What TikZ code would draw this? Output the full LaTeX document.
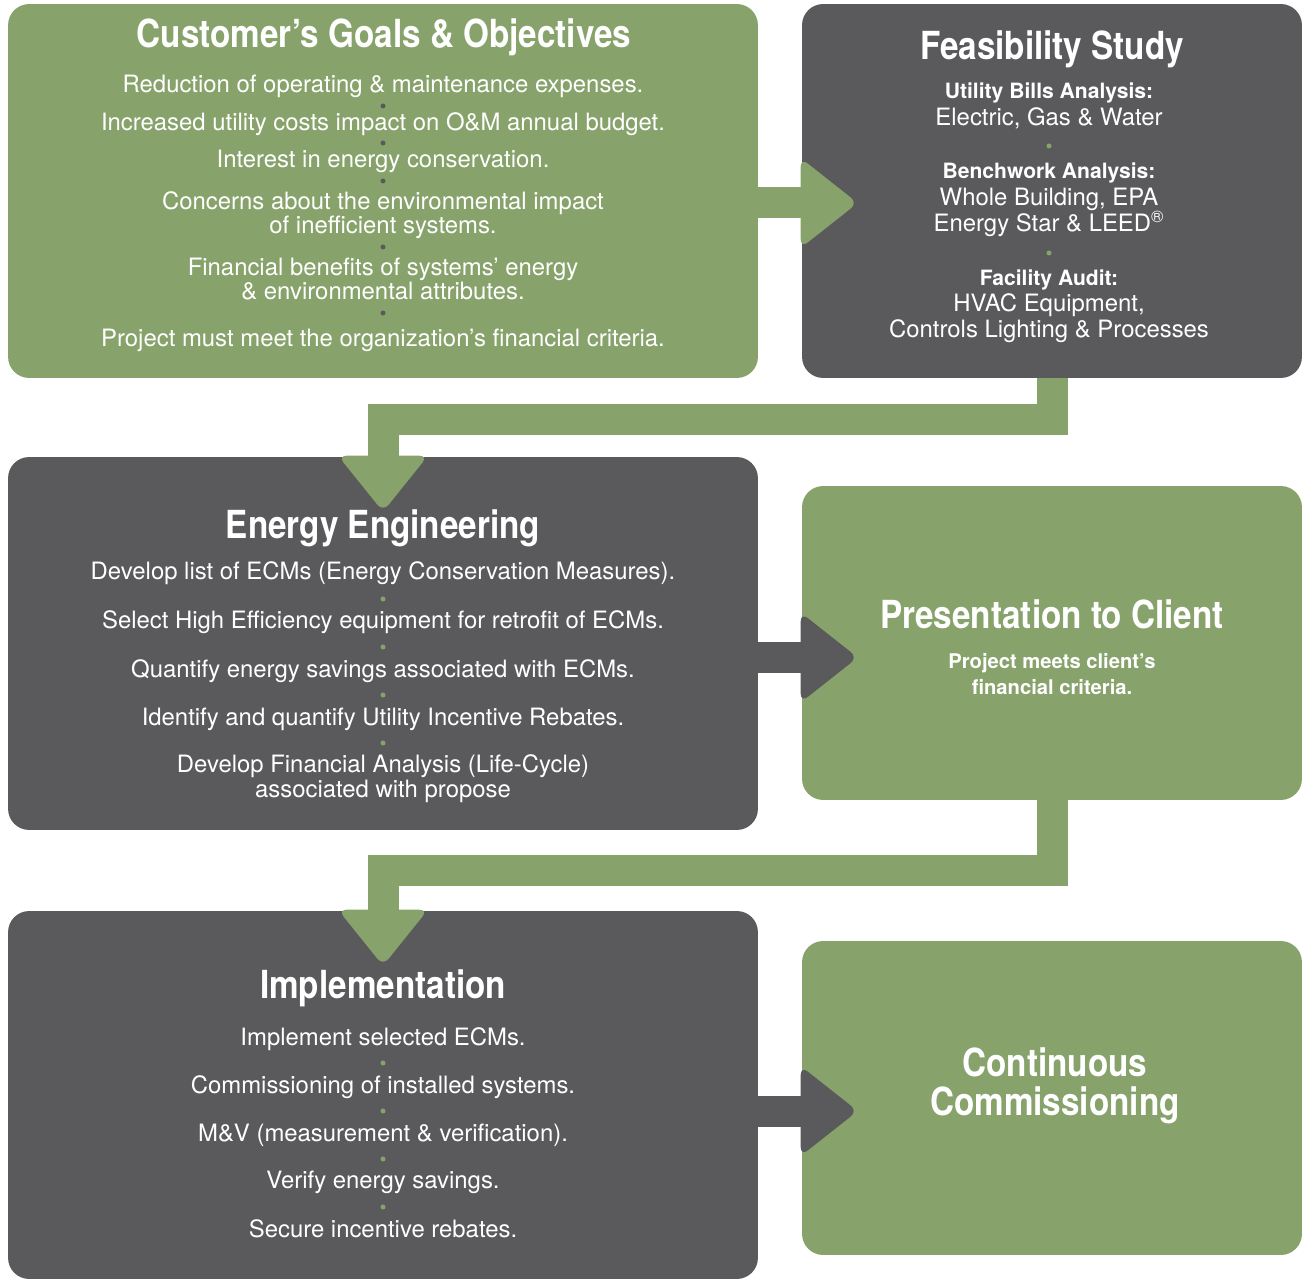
\documentclass[tikz,border=0pt]{standalone}
\usepackage{fontspec}
\setmainfont{TeX Gyre Heros}
\newfontfamily\headfont[FakeStretch=0.86]{TeX Gyre Heros}
\usepackage{tikz}
\usetikzlibrary{positioning, calc}
\definecolor{leaf}{HTML}{87A36B}
\definecolor{slate}{HTML}{5A5A5C}

\begin{document}
\begin{tikzpicture}[
  x=0.02cm, y=-0.02cm,
  gbox/.style={fill=leaf, rounded corners=12pt, inner sep=0pt},
  dbox/.style={fill=slate, rounded corners=12pt, inner sep=0pt},
  title/.style={font=\headfont\bfseries\fontsize{22}{22}\selectfont,
                text=white, align=center, anchor=base},
  item/.style={font=\fontsize{13.6}{12.8}\selectfont,
               text=white, align=center, anchor=base},
  entry/.style={item, font=\fontsize{13.6}{15}\selectfont},
  sub/.style={font=\bfseries\fontsize{12}{15}\selectfont,
              text=white, align=center, anchor=base},
  gpipe/.style={draw=leaf, line width=0.62cm},
  dpipe/.style={draw=slate, line width=0.62cm},
  ghead/.style={fill=leaf, rounded corners=5pt},
  dhead/.style={fill=slate, rounded corners=5pt}
]
  \useasboundingbox (0,0) rectangle (1309,1280);

  % Boxes
  \node[gbox, minimum width=15cm, minimum height=7.48cm] (goals) at (383,191) {};
  \node[dbox, minimum width=10cm, minimum height=7.48cm] (feas) at (1052,191) {};
  \node[dbox, minimum width=15cm, minimum height=7.46cm] (eng) at (383,643.5) {};
  \node[gbox, minimum width=10cm, minimum height=6.28cm] (pres) at (1052,643) {};
  \node[dbox, minimum width=15cm, minimum height=7.36cm] (impl) at (383,1095) {};
  \node[gbox, minimum width=10cm, minimum height=6.28cm] (comm) at (1052,1098) {};

  % Side arrows
  \coordinate (a1) at ($(goals.east)+(0,12)$);
  \coordinate (t1) at (a1 -| feas.west);
  \draw[gpipe] (a1) -- (t1);
  \fill[ghead] ($(t1)+(-1,-45)$) -- ($(t1)+(56,0)$) -- ($(t1)+(-1,45)$) -- cycle;

  \coordinate (a2) at ($(eng.east)+(0,14)$);
  \coordinate (t2) at (a2 -| pres.west);
  \draw[dpipe] (a2) -- (t2);
  \fill[dhead] ($(t2)+(-1,-45)$) -- ($(t2)+(56,0)$) -- ($(t2)+(-1,45)$) -- cycle;

  \coordinate (a3) at ($(impl.east)+(0,16)$);
  \coordinate (t3) at (a3 -| comm.west);
  \draw[dpipe] (a3) -- (t3);
  \fill[dhead] ($(t3)+(-1,-45)$) -- ($(t3)+(56,0)$) -- ($(t3)+(-1,45)$) -- cycle;

  % Elbow arrows
  \draw[gpipe] (feas.south) -- ++(0,41) -| (eng.north);
  \fill[ghead] ($(eng.north)+(-45,-1)$) -- ($(eng.north)+(0,55)$) -- ($(eng.north)+(45,-1)$) -- cycle;
  \draw[gpipe] (pres.south) -- ++(0,70) -| (impl.north);
  \fill[ghead] ($(impl.north)+(-45,-1)$) -- ($(impl.north)+(0,55)$) -- ($(impl.north)+(45,-1)$) -- cycle;

  % Customer's goals (two-line texts sit on their last line)
  \node[title] (goalsT) at (384,48) {Customer’s Goals \& Objectives};
  \node[item] (g1) at (383,93) {Reduction of operating \& maintenance expenses.};
  \node[item] (g2) at (383,131) {Increased utility costs impact on O\&M annual budget.};
  \node[item] (g3) at (383,168) {Interest in energy conservation.};
  \node[item] (g4) at (383,234) {Concerns about the environmental impact\\of inefficient systems.};
  \node[item] (g5) at (383,300) {Financial benefits of systems’ energy\\\& environmental attributes.};
  \node[item] (g6) at (383,347) {Project must meet the organization’s financial criteria.};
  \foreach \y in {106,143,181,247,313}
    \fill[slate] (383,\y) circle (0.05cm);

  % Feasibility study
  \node[title] (feasT) at (1052,60) {Feasibility Study};
  \node[sub] (f1) at (1049,99) {Utility Bills Analysis:};
  \node[entry] (f2) at (1049,126) {Electric, Gas \& Water};
  \node[sub] (f3) at (1049,179) {Benchwork Analysis:};
  \node[entry] (f4) at (1049,232) {Whole Building, EPA\\Energy Star \& LEED\textsuperscript{®}};
  \node[sub] (f5) at (1049,286) {Facility Audit:};
  \node[entry] (f6) at (1049,338) {HVAC Equipment,\\Controls Lighting \& Processes};
  \foreach \y in {146,253}
    \fill[leaf] (1049,\y) circle (0.05cm);

  % Energy engineering
  \node[title] (engT) at (383,539) {Energy Engineering};
  \node[item] (e1) at (383,580) {Develop list of ECMs (Energy Conservation Measures).};
  \node[item] (e2) at (383,628) {Select High Efficiency equipment for retrofit of ECMs.};
  \node[item] (e3) at (383,677) {Quantify energy savings associated with ECMs.};
  \node[item] (e4) at (383,725) {Identify and quantify Utility Incentive Rebates.};
  \node[item] (e5) at (383,797) {Develop Financial Analysis (Life-Cycle)\\associated with propose};
  \foreach \y in {599,647,695,743}
    \fill[leaf] (383,\y) circle (0.05cm);

  % Presentation
  \node[title] (presT) at (1052,628) {Presentation to Client};
  \node[sub, font=\bfseries\fontsize{11.5}{14.5}\selectfont] (p1) at (1052,694)
    {Project meets client’s\\financial criteria.};

  % Implementation
  \node[title] (implT) at (383,998) {Implementation};
  \node[item] (i1) at (383,1045) {Implement selected ECMs.};
  \node[item] (i2) at (383,1093) {Commissioning of installed systems.};
  \node[item] (i3) at (383,1141) {M\&V (measurement \& verification).};
  \node[item] (i4) at (383,1188) {Verify energy savings.};
  \node[item] (i5) at (383,1237) {Secure incentive rebates.};
  \foreach \y in {1063,1111,1159,1207}
    \fill[leaf] (383,\y) circle (0.05cm);

  % Continuous commissioning
  \node[title] (commT) at (1055,1115) {Continuous\\Commissioning};
\end{tikzpicture}
\end{document}
